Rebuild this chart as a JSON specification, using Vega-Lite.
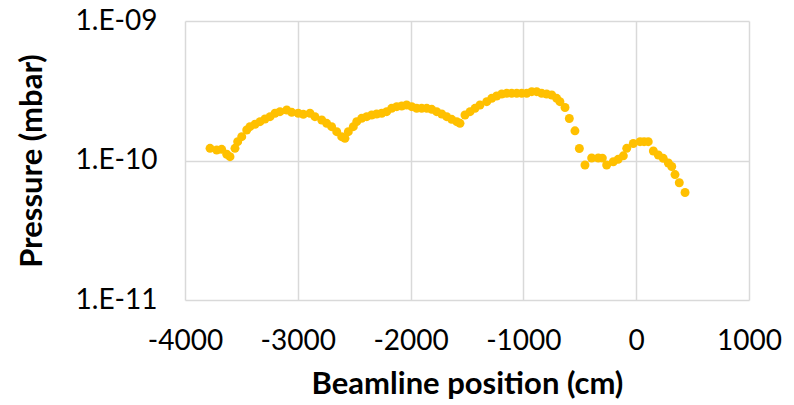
{
  "$schema": "https://vega.github.io/schema/vega-lite/v6.json",
  "autosize": {"type": "none"},
  "width": 564,
  "height": 279,
  "padding": {"left": 185, "top": 21, "right": 45, "bottom": 105},
  "background": "white",
  "config": {"view": {"stroke": null}, "font": "Lato"},
  "data": {"values": [
    {"x": -3778, "p": 1.223e-10}, {"x": -3719, "p": 1.189e-10}, {"x": -3675, "p": 1.203e-10}, {"x": -3630, "p": 1.108e-10}, {"x": -3601, "p": 1.065e-10},
    {"x": -3557, "p": 1.223e-10}, {"x": -3533, "p": 1.364e-10}, {"x": -3497, "p": 1.481e-10}, {"x": -3453, "p": 1.654e-10}, {"x": -3424, "p": 1.747e-10},
    {"x": -3379, "p": 1.818e-10}, {"x": -3335, "p": 1.897e-10}, {"x": -3291, "p": 1.984e-10}, {"x": -3246, "p": 2.061e-10}, {"x": -3202, "p": 2.180e-10},
    {"x": -3158, "p": 2.238e-10}, {"x": -3098, "p": 2.301e-10}, {"x": -3054, "p": 2.216e-10}, {"x": -2996, "p": 2.180e-10}, {"x": -2951, "p": 2.144e-10},
    {"x": -2892, "p": 2.180e-10}, {"x": -2848, "p": 2.061e-10}, {"x": -2788, "p": 1.951e-10}, {"x": -2744, "p": 1.848e-10}, {"x": -2700, "p": 1.747e-10},
    {"x": -2655, "p": 1.609e-10}, {"x": -2611, "p": 1.481e-10}, {"x": -2582, "p": 1.442e-10}, {"x": -2552, "p": 1.609e-10}, {"x": -2508, "p": 1.747e-10},
    {"x": -2478, "p": 1.897e-10}, {"x": -2434, "p": 2.006e-10}, {"x": -2389, "p": 2.061e-10}, {"x": -2345, "p": 2.119e-10}, {"x": -2301, "p": 2.154e-10},
    {"x": -2256, "p": 2.180e-10}, {"x": -2212, "p": 2.238e-10}, {"x": -2168, "p": 2.366e-10}, {"x": -2123, "p": 2.430e-10}, {"x": -2079, "p": 2.458e-10},
    {"x": -2035, "p": 2.499e-10}, {"x": -1990, "p": 2.430e-10}, {"x": -1946, "p": 2.366e-10}, {"x": -1902, "p": 2.366e-10}, {"x": -1857, "p": 2.366e-10},
    {"x": -1813, "p": 2.328e-10}, {"x": -1769, "p": 2.238e-10}, {"x": -1724, "p": 2.154e-10}, {"x": -1680, "p": 2.061e-10}, {"x": -1636, "p": 1.974e-10},
    {"x": -1591, "p": 1.897e-10}, {"x": -1562, "p": 1.848e-10}, {"x": -1518, "p": 2.119e-10}, {"x": -1473, "p": 2.238e-10}, {"x": -1429, "p": 2.366e-10},
    {"x": -1385, "p": 2.499e-10}, {"x": -1325, "p": 2.639e-10}, {"x": -1281, "p": 2.792e-10}, {"x": -1237, "p": 2.900e-10}, {"x": -1192, "p": 2.997e-10},
    {"x": -1148, "p": 3.032e-10}, {"x": -1104, "p": 3.032e-10}, {"x": -1059, "p": 3.032e-10}, {"x": -1015, "p": 3.032e-10}, {"x": -971, "p": 3.032e-10},
    {"x": -926, "p": 3.113e-10}, {"x": -882, "p": 3.113e-10}, {"x": -838, "p": 3.032e-10}, {"x": -794, "p": 2.997e-10}, {"x": -749, "p": 2.948e-10},
    {"x": -705, "p": 2.792e-10}, {"x": -676, "p": 2.639e-10}, {"x": -631, "p": 2.398e-10}, {"x": -593, "p": 2.000e-10}, {"x": -543, "p": 1.633e-10},
    {"x": -504, "p": 1.219e-10}, {"x": -454, "p": 9.28e-11}, {"x": -395, "p": 1.042e-10}, {"x": -336, "p": 1.042e-10}, {"x": -300, "p": 1.040e-10},
    {"x": -262, "p": 9.28e-11}, {"x": -203, "p": 9.80e-11}, {"x": -160, "p": 1.020e-10}, {"x": -114, "p": 1.080e-10}, {"x": -84, "p": 1.223e-10},
    {"x": -26, "p": 1.324e-10}, {"x": 34, "p": 1.364e-10}, {"x": 70, "p": 1.364e-10}, {"x": 107, "p": 1.364e-10}, {"x": 152, "p": 1.170e-10},
    {"x": 196, "p": 1.095e-10}, {"x": 240, "p": 1.037e-10}, {"x": 285, "p": 9.60e-11}, {"x": 315, "p": 9.06e-11}, {"x": 344, "p": 7.93e-11},
    {"x": 382, "p": 6.93e-11}, {"x": 433, "p": 5.90e-11}
  ]},
  "mark": {"type": "point", "filled": true, "opacity": 1, "size": 80, "color": "#FFC000"},
  "encoding": {
    "x": {
      "field": "x", "type": "quantitative",
      "scale": {"domain": [-4000, 1000], "nice": false, "zero": false},
      "axis": {
        "values": [-4000, -3000, -2000, -1000, 0, 1000],
        "labelExpr": "'' + datum.value",
        "labelOverlap": false, "labelFlush": false, "labelBound": false,
        "title": "Beamline position (cm)", "titleFontSize": 31, "titleFontWeight": "bold", "titleColor": "#000000",
        "titlePadding": 14,
        "labelFontSize": 28, "labelColor": "#000000", "labelPadding": 27,
        "ticks": false, "domain": false,
        "grid": true, "gridColor": "#D9D9D9", "gridWidth": 1.5
      }
    },
    "y": {
      "field": "p", "type": "quantitative",
      "scale": {"type": "log", "domain": [1e-11, 1e-9], "nice": false},
      "axis": {
        "values": [1e-11, 1e-10, 1e-9],
        "labelExpr": "'1.E-' + (round(log(datum.value)/LN10) > -10 ? '0' : '') + (-round(log(datum.value)/LN10))",
        "labelOverlap": false, "labelFlush": false, "labelBound": false,
        "title": "Pressure (mbar)", "titleFontSize": 31, "titleFontWeight": "bold", "titleColor": "#000000",
        "titlePadding": 27,
        "labelFontSize": 28, "labelColor": "#000000", "labelPadding": 28,
        "ticks": false, "domain": false,
        "grid": true, "gridColor": "#D9D9D9", "gridWidth": 1.5
      }
    }
  }
}
